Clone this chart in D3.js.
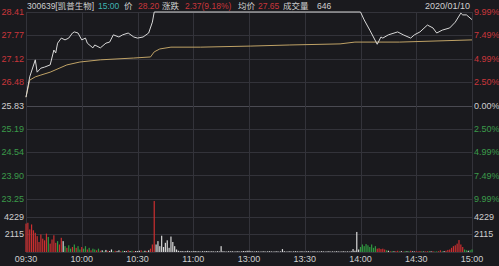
<!DOCTYPE html>
<html>
<head>
<meta charset="utf-8">
<script src="https://cdn.jsdelivr.net/npm/d3@7"></script>
<style>
body { margin: 0; background: #1a1a1e; }
svg { display: block; font-family: "Liberation Sans", "Noto Sans CJK SC", sans-serif; }
.grid { stroke: #33333a; stroke-width: 1; shape-rendering: crispEdges; }
.mid { stroke: #4a4a52; }
</style>
</head>
<body>
<div id="chart"></div>
<script>
//------------------------------------------ Data ------------------------------------------

var priceTicks = [28.41, 27.77, 27.12, 26.48, 25.83, 25.19, 24.54, 23.90, 23.25];
var pctTicks = ["9.99%", "7.49%", "4.99%", "2.50%", "0.00%", "2.50%", "4.99%", "7.49%", "9.99%"];
var volTicks = [4229, 2115];
var timeLabels = ["09:30", "10:00", "10:30", "11:00", "13:00", "13:30", "14:00", "14:30", "15:00"];

var priceTimes = ["09:30","09:32","09:35","09:36","09:38","09:40","09:43","09:45","09:46","09:47",
	"09:49","09:51","09:53","09:55","09:56","09:58","10:00","10:02","10:03","10:06",
	"10:07","10:10","10:13","10:15","10:17","10:20","10:22","10:25","10:28","10:30",
	"10:33","10:36","10:38","10:39","11:30","14:00","14:02","14:05","14:09","14:11",
	"14:12","14:15","14:20","14:23","14:27","14:29","14:32","14:36","14:39","14:41",
	"14:44","14:48","14:51","14:54","14:55","14:57","15:00"];
var prices = [26.06, 26.62, 27.09, 26.75, 26.86, 26.89, 26.95, 27.36, 27.28, 27.55,
	27.69, 27.64, 27.69, 27.83, 27.86, 27.83, 27.64, 27.69, 27.55, 27.42,
	27.50, 27.42, 27.55, 27.58, 27.78, 27.72, 27.78, 27.83, 27.72, 27.69,
	27.72, 27.83, 28.13, 28.41, 28.41, 28.41, 28.19, 27.91, 27.52, 27.72,
	27.69, 27.78, 27.86, 27.78, 27.69, 27.78, 27.86, 28.05, 27.97, 27.83,
	27.91, 27.97, 28.13, 28.38, 28.33, 28.33, 28.20];

//average price line
var avgTimes = ["09:30","09:32","09:35","09:38","09:43","09:52","09:59","10:10","10:28","10:37",
	"10:39","10:42","10:48","11:04","13:01","13:22","13:49","13:57","14:21","15:00"];
var avgPrices = [26.06, 26.53, 26.62, 26.67, 26.75, 26.95, 27.03, 27.09, 27.14, 27.17,
	27.31, 27.39, 27.44, 27.44, 27.47, 27.50, 27.53, 27.58, 27.58, 27.64];

//volume per minute, 241 bars (09:30 .. 11:30, 13:01 .. 15:00)
var volumes = [
	3400, 3500, 2700, 3300, 2600, 2300, 1900, 1200, 2100, 1600,
	1400, 2200, 1800, 1000, 1500, 2000, 1100, 1300, 900, 1700,
	1300, 700, 500, 800, 400, 600, 900, 500, 700, 300,
	600, 400, 700, 300, 500, 200, 400, 300, 200, 400,
	150, 200, 100, 250, 150, 120, 300, 100, 150, 100,
	200, 100, 150, 120, 100, 200, 100, 150, 100, 120,
	100, 150, 200, 100, 150, 120, 200, 400, 900, 6100,
	900, 1300, 700, 1950, 600, 1100, 1400, 500, 1850, 1200,
	700, 300, 150, 100, 120, 80, 100, 150, 100, 80,
	100, 120, 80, 100, 60, 100, 80, 120, 100, 80,
	100, 80, 60, 100, 80, 700, 100, 80, 60, 100,
	80, 100, 60, 80, 100, 60, 80, 120, 100, 150,
	150,
	100, 80, 60, 100, 80, 60, 80, 100, 60, 80,
	100, 80, 60, 80, 100, 60, 80, 350, 100, 60,
	80, 100, 60, 80, 100, 80, 60, 100, 80, 60,
	80, 100, 60, 80, 100, 60, 80, 60, 100, 80,
	60, 80, 100, 60, 80, 60, 100, 80, 60, 80,
	100, 60, 80, 60, 100, 350, 150, 2400, 300, 600,
	900, 700, 950, 800, 600, 900, 500, 700, 400, 450,
	350, 400, 300, 200, 150, 100, 120, 80, 100, 150,
	80, 100, 60, 120, 80, 100, 150, 80, 60, 100,
	80, 120, 100, 60, 80, 100, 120, 80, 100, 60,
	80, 100, 200, 80, 100, 150, 250, 300, 500, 700,
	800, 1000, 1430, 900, 600, 300, 200, 150, 200, 300
];
//r = up, g = down, w = unchanged
var volColors = [
	"rrrrrrrrrr", "rrgrrrrgrr", "wgrggrgrgg", "rggrgrggrg", "rwgwrwwgrw",
	"wrgwwrwgrw", "wwrgwrwrrr", "wwwwwwwwww", "wwwwwwwwww", "wwwwwwwwww",
	"wwwwwwwwww", "wwwwwwwwww", "w",
	"wwwwwwwwww", "wwwwwwwwww", "wwwwwwwwww", "wwwwwwwwww", "wwwwwwwwww",
	"wwwwwwwwwg", "ggggggggrr", "rrrgwrgwrr", "gwrgwgrwwr", "rrgwrrgwrg",
	"grrgwrrrrr", "rrrrrggwgg"
].join("");

//header pieces: text, colour key, left edge
var headerText = ["300639[凯普生物]", "15:00", "价", "28.20", "涨跌", "2.37(9.18%)", "均价", "27.65", "成交量", "646"];
var headerKind = ["t", "c", "t", "u", "t", "u", "t", "u", "t", "t"];
var headerX = [27, 98, 124, 138, 162, 185, 238, 258, 283, 317];

//---------------------------------------- Setup ----------------------------------------

var width = 499, height = 266;
var left = 26, right = 472;
var colorMap = { r: "#cc2f30", g: "#2f9a40", w: "#d8d8d8" };
var upColor = "#c9363b", downColor = "#3a9a4a", textColor = "#cfcfcf";
var headerColor = { t: textColor, c: "#3fb3b3", u: upColor };

var svg = d3.select("#chart").append("svg")
	.attr("width", width)
	.attr("height", height);

svg.append("rect").attr("width", width).attr("height", height).attr("fill", "#1a1a1e");

//minute index on the trading day (0 .. 240)
function minuteIndex(t) {
	var p = t.split(":"), m = +p[0] * 60 + +p[1];
	return m <= 690 ? m - 570 : m - 780 + 120;
}

var x = d3.scaleLinear().domain([0, 240]).range([left, right]);
var y = d3.scaleLinear().domain([23.25, 28.41]).range([199, 12]);
var yVol = d3.scaleLinear().domain([0, 6344]).range([252, 199]);

//---------------------------------------- Grid ----------------------------------------

svg.selectAll(".hgrid")
	.data(priceTicks)
	.enter().append("line")
	.attr("class", function(d, i) { return i == 4 ? "grid mid" : "grid"; })
	.attr("x1", left).attr("x2", right)
	.attr("y1", function(d) { return Math.round(y(d)) + 0.5; })
	.attr("y2", function(d) { return Math.round(y(d)) + 0.5; });

svg.selectAll(".volGrid")
	.data(volTicks.concat([0]))
	.enter().append("line")
	.attr("class", "grid")
	.attr("x1", left).attr("x2", right)
	.attr("y1", function(d) { return Math.round(yVol(d)) + 0.5; })
	.attr("y2", function(d) { return Math.round(yVol(d)) + 0.5; });

svg.selectAll(".vgrid")
	.data(timeLabels)
	.enter().append("line")
	.attr("class", "grid")
	.attr("x1", function(d, i) { return Math.round(x(i * 30)) + 0.5; })
	.attr("x2", function(d, i) { return Math.round(x(i * 30)) + 0.5; })
	.attr("y1", 12).attr("y2", 253);

//---------------------------------------- Labels ----------------------------------------

function labelColor(i) { return i < 4 ? upColor : (i == 4 ? textColor : downColor); }

svg.selectAll(".priceLabel")
	.data(priceTicks)
	.enter().append("text")
	.attr("x", 24)
	.attr("y", function(d) { return y(d); })
	.attr("dy", "0.35em")
	.attr("text-anchor", "end")
	.style("font-size", "9px")
	.attr("fill", function(d, i) { return labelColor(i); })
	.text(function(d) { return d.toFixed(2); });

svg.selectAll(".pctLabel")
	.data(pctTicks)
	.enter().append("text")
	.attr("x", 474)
	.attr("y", function(d, i) { return y(priceTicks[i]); })
	.attr("dy", "0.35em")
	.style("font-size", "9px")
	.attr("fill", function(d, i) { return labelColor(i); })
	.text(function(d) { return d; });

volTicks.forEach(function(v) {
	svg.append("text").attr("x", 24).attr("y", yVol(v)).attr("dy", "0.35em")
		.attr("text-anchor", "end").style("font-size", "9px").attr("fill", textColor).text(v);
	svg.append("text").attr("x", 474).attr("y", yVol(v)).attr("dy", "0.35em")
		.style("font-size", "9px").attr("fill", textColor).text(v);
});

svg.selectAll(".timeLabel")
	.data(timeLabels)
	.enter().append("text")
	.attr("x", function(d, i) { return x(i * 30); })
	.attr("y", 262)
	.attr("text-anchor", "middle")
	.style("font-size", "9px")
	.attr("fill", textColor)
	.text(function(d) { return d; });

//header
svg.selectAll(".header")
	.data(headerText)
	.enter().append("text")
	.attr("x", function(d, i) { return headerX[i]; })
	.attr("y", 9)
	.style("font-size", "8.5px")
	.attr("fill", function(d, i) { return headerColor[headerKind[i]]; })
	.text(function(d) { return d; });

svg.append("text").attr("x", 470).attr("y", 9).attr("text-anchor", "end")
	.style("font-size", "9px").attr("fill", textColor).text("2020/01/10");

//---------------------------------------- Volume bars ----------------------------------------

svg.selectAll(".volBar")
	.data(volumes)
	.enter().append("rect")
	.attr("x", function(d, i) { return x(i) - 0.6; })
	.attr("width", 1.2)
	.attr("y", function(d) { return yVol(d); })
	.attr("height", function(d) { return yVol(0) - yVol(d); })
	.attr("fill", function(d, i) { return colorMap[volColors[i]]; });

//---------------------------------------- Lines ----------------------------------------

var line = d3.line()
	.x(function(d) { return x(minuteIndex(d[0])); })
	.y(function(d) { return y(d[1]); });

svg.append("path")
	.datum(d3.zip(avgTimes, avgPrices))
	.attr("d", line)
	.attr("fill", "none")
	.attr("stroke", "#bfa266")
	.attr("stroke-width", 1);

svg.append("path")
	.datum(d3.zip(priceTimes, prices))
	.attr("d", line)
	.attr("fill", "none")
	.attr("stroke", "#d8d8d8")
	.attr("stroke-width", 1);
</script>
</body>
</html>
